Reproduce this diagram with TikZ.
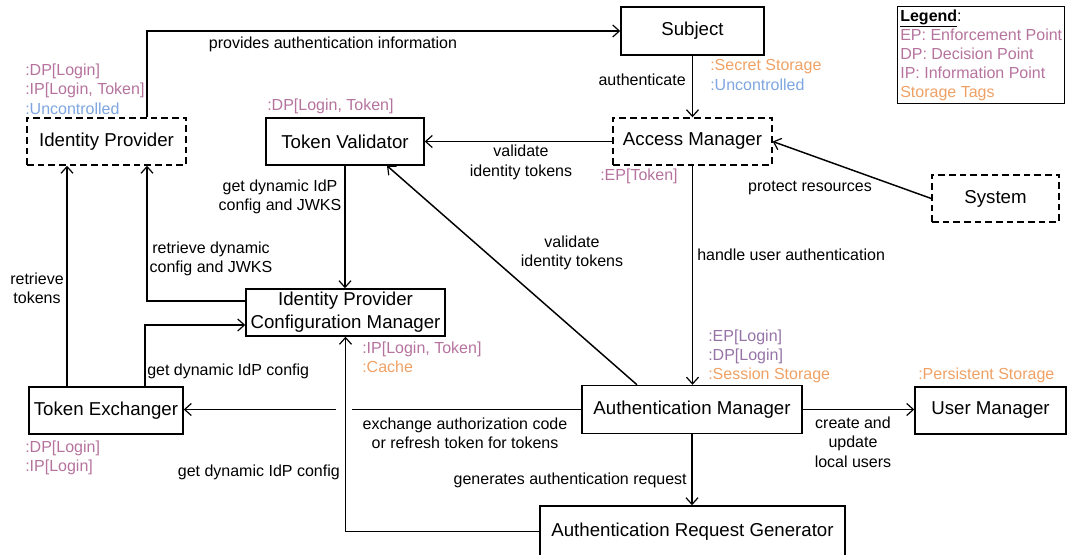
\documentclass[tikz,border=0pt]{standalone}
\usepackage{fontspec}
\setmainfont{Liberation Sans}
\usetikzlibrary{arrows.meta}
\definecolor{tagpink}{HTML}{B5739D}
\definecolor{tagpurple}{HTML}{9673A6}
\definecolor{tagorange}{HTML}{EFA165}
\definecolor{tagblue}{HTML}{7EA6E0}
\tikzset{
  box/.style={draw, line width=1.1pt, minimum height=35.25pt, inner sep=0pt,
    font=\fontsize{14}{17}\selectfont, align=center},
  dbox/.style={box, dash pattern=on 5pt off 3pt},
  lbl/.style={font=\fontsize{12}{14.5}\selectfont, align=center, inner sep=0pt},
  tag/.style={font=\fontsize{12}{14.5}\selectfont, align=left, anchor=west, inner sep=0pt},
  arr/.style={line width=1.1pt, -{Straight Barb[length=5pt,width=9pt,line width=0.9pt]}},
}
\begin{document}
\begin{tikzpicture}[x=0.75pt,y=-0.75pt]
\useasboundingbox (0,0) rectangle (1068,554);

% nodes
\node[box, minimum width=107.25pt, minimum height=36pt] (subj) at (692.5,31) {Subject};
\node[dbox, minimum width=119.25pt] (am) at (692.5,141.5) {Access Manager};
\node[box, minimum width=118.5pt] (tv) at (345,141.5) {Token Validator};
\node[dbox, minimum width=119.25pt] (idp) at (106.5,141.5) {Identity Provider};
\node[dbox, minimum width=95.25pt] (sys) at (995.5,198.5) {System};
\node[box, minimum width=149.25pt] (idpcm) at (345.5,312.5) {Identity Provider\\Configuration Manager};
\node[box, minimum width=115.5pt] (te) at (106,410.5) {Token Exchanger};
\node[box, minimum width=165pt, minimum height=36pt] (authm) at (692,409.5) {Authentication Manager};
\node[box, minimum width=113.25pt] (um) at (990.5,410.5) {User Manager};
\node[box, minimum width=228.75pt, minimum height=38.25pt] (arg) at (692.5,531.5) {Authentication Request Generator};

% legend
\node[draw, line width=1.1pt, anchor=north west, minimum width=125.25pt, minimum height=72.75pt,
  inner sep=1.5pt, align=left, font=\fontsize{12}{14.3}\selectfont] (legend) at (897,6)
  {\underline{\textbf{Legend}}:\\
   \textcolor{tagpink}{EP: Enforcement Point}\\
   \textcolor{tagpink}{DP: Decision Point}\\
   \textcolor{tagpink}{IP: Information Point}\\
   \textcolor{tagorange}{Storage Tags}};

% helper coordinates
\coordinate (p1) at (147,31);
\coordinate (p2) at (67,0);
\coordinate (p3) at (145,325);
\coordinate (g1) at (352,0);
\coordinate (g2) at (336,0);

% connectors
\draw[arr] (idp.north -| p1) |- (subj.west);
\draw[arr] (subj.south) -- (am.north);
\draw[arr] (am.west) -- (tv.east);
\draw[arr] (sys.west) -- (am.east);
\draw[arr] (am.south) -- (authm.north -| am.south);
\draw[arr] ([xshift=-41.25pt]authm.north) -- ([xshift=31.5pt]tv.south);
\draw[arr] (tv.south) -- (tv.south |- idpcm.north);
\draw[arr] ([yshift=8.625pt]idpcm.west) -| (idp.south -| p1);
\draw[arr] (te.north -| p2) -- (idp.south -| p2);
\draw[arr] (te.north -| p3) |- (idpcm.west |- p3);
\draw[arr] (authm.west) -- (authm.west -| g1) (authm.west -| g2) -- (authm.west -| te.east);
\draw[arr] (arg.west) -| (idpcm.south);
\draw[arr] (authm.south) -- (authm.south |- arg.north);
\draw[arr] (authm.east) -- (authm.east -| um.west);

% connector labels
\node[lbl] (l1) at (333,44) {provides authentication information};
\node[lbl, anchor=east] (l2) at (686,80) {authenticate};
\node[lbl] (l3) at (521,162.5) {validate\\identity tokens};
\node[lbl] (l4) at (810,188) {protect resources};
\node[lbl, anchor=west] (l5) at (697,255) {handle user authentication};
\node[lbl] (l6) at (572,253) {validate\\identity tokens};
\node[lbl] (l7) at (280,197) {get dynamic IdP\\config and JWKS};
\node[lbl] (l8) at (211,259) {retrieve dynamic\\config and JWKS};
\node[lbl] (l9) at (37,288.5) {retrieve\\tokens};
\node[lbl, anchor=west] (l10) at (147,371) {get dynamic IdP config};
\node[lbl] (l11) at (465,433) {exchange authorization code\\or refresh token for tokens};
\node[lbl, anchor=east] (l12) at (340,472) {get dynamic IdP config};
\node[lbl, anchor=east] (l13) at (687,480) {generates authentication request};
\node[lbl] (l14) at (853,442) {create and\\update\\local users};

% tags
\node[tag] (t1) at (710,75) {\textcolor{tagorange}{:Secret Storage}\\\textcolor{tagblue}{:Uncontrolled}};
\node[tag] (t2) at (25,89) {\textcolor{tagpink}{:DP[Login]}\\\textcolor{tagpink}{:IP[Login, Token]}\\\textcolor{tagblue}{:Uncontrolled}};
\node[tag] (t3) at (267,106) {\textcolor{tagpink}{:DP[Login, Token]}};
\node[tag] (t4) at (600,176) {\textcolor{tagpink}{:EP[Token]}};
\node[tag] (t5) at (362,357) {\textcolor{tagpink}{:IP[Login, Token]}\\\textcolor{tagorange}{:Cache}};
\node[tag] (t6) at (708,356.5) {\textcolor{tagpurple}{:EP[Login]}\\\textcolor{tagpurple}{:DP[Login]}\\\textcolor{tagorange}{:Session Storage}};
\node[tag] (t7) at (918,375) {\textcolor{tagorange}{:Persistent Storage}};
\node[tag] (t8) at (25,458) {\textcolor{tagpink}{:DP[Login]}\\\textcolor{tagpink}{:IP[Login]}};
\end{tikzpicture}
\end{document}
